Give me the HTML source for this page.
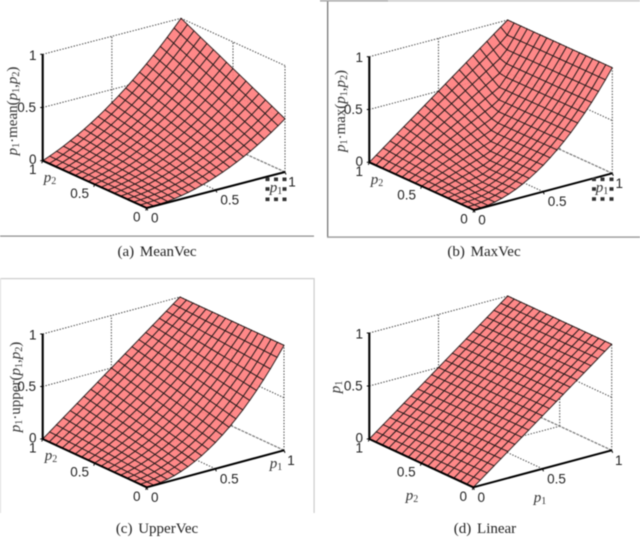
<!DOCTYPE html>
<html lang="en">
<head>
<meta charset="utf-8">
<title>Surface plots of p1 combination functions</title>
<style>
html,body{margin:0;padding:0;background:#fff;width:640px;height:537px;overflow:hidden}
svg{display:block;position:absolute;left:0;top:0}
#plots{filter:blur(0.5px)}
.cap{font-family:"Liberation Serif",serif;font-size:15px;fill:#222;text-anchor:middle;word-spacing:2px}
.ttl{font-family:"Liberation Serif",serif;font-size:15px;fill:#333;text-anchor:middle}
.ttl .i{font-style:italic}
.sub{font-size:10px}
</style>
</head>
<body>
<svg id="plots" width="640" height="537" viewBox="0 0 640 537" xmlns="http://www.w3.org/2000/svg">
  <g>
    <rect x="0" y="235.5" width="314" height="1.2" fill="#8a8a8a"/>
    <rect x="327" y="0" width="1.3" height="237" fill="#777"/>
    <rect x="327" y="236.4" width="313" height="1.4" fill="#999"/>
    <rect x="320" y="0" width="68" height="1.6" fill="#aaa"/>
    <rect x="388" y="0" width="252" height="1.6" fill="#ccc"/>
    <rect x="0" y="278" width="314" height="1.2" fill="#ccc"/>
    <rect x="313.5" y="278" width="1.2" height="235" fill="#ccc"/>
    <rect x="0" y="278" width="1" height="235" fill="#ddd"/>
  </g>
  <g id="surfaces"></g>

  <g fill="#333">
    <rect x="265.5" y="177.5" width="4" height="3.6"/><rect x="274" y="177.5" width="4" height="3.6"/><rect x="282.5" y="177.5" width="4" height="3.6"/>
    <rect x="265.5" y="187.2" width="4" height="3.6"/><rect x="282.5" y="187.2" width="4" height="3.6"/>
    <rect x="265.5" y="197.5" width="4" height="3.6"/><rect x="274" y="197.5" width="4" height="3.6"/><rect x="282.5" y="197.5" width="4" height="3.6"/>
  </g>
  <g fill="#333">
    <rect x="592" y="177.5" width="4" height="3.6"/><rect x="600.5" y="177.5" width="4" height="3.6"/><rect x="609.5" y="177.5" width="4" height="3.6"/>
    <rect x="592" y="187.2" width="4" height="3.6"/><rect x="609.5" y="187.2" width="4" height="3.6"/>
    <rect x="592" y="197.2" width="4" height="3.6"/><rect x="600.5" y="197.2" width="4" height="3.6"/><rect x="609.5" y="197.2" width="4" height="3.6"/>
  </g>

  <text class="ttl" transform="translate(17,111) rotate(-90)"><tspan class="i">p</tspan><tspan class="sub" dy="2">1</tspan><tspan dy="-2">·mean(</tspan><tspan class="i">p</tspan><tspan class="sub" dy="2">1</tspan><tspan dy="-2">,</tspan><tspan class="i">p</tspan><tspan class="sub" dy="2">2</tspan><tspan dy="-2">)</tspan></text>
  <text class="ttl" transform="translate(345,111) rotate(-90)"><tspan class="i">p</tspan><tspan class="sub" dy="2">1</tspan><tspan dy="-2">·max(</tspan><tspan class="i">p</tspan><tspan class="sub" dy="2">1</tspan><tspan dy="-2">,</tspan><tspan class="i">p</tspan><tspan class="sub" dy="2">2</tspan><tspan dy="-2">)</tspan></text>
  <text class="ttl" transform="translate(20,387) rotate(-90)"><tspan class="i">p</tspan><tspan class="sub" dy="2">1</tspan><tspan dy="-2">·upper(</tspan><tspan class="i">p</tspan><tspan class="sub" dy="2">1</tspan><tspan dy="-2">,</tspan><tspan class="i">p</tspan><tspan class="sub" dy="2">2</tspan><tspan dy="-2">)</tspan></text>
  <text class="ttl" transform="translate(340,387) rotate(-90)"><tspan class="i">p</tspan><tspan class="sub" dy="2">1</tspan></text>

  <text class="ttl" x="50" y="182"><tspan class="i">p</tspan><tspan class="sub" dy="2">2</tspan></text>
  <text class="ttl" x="276" y="192"><tspan class="i">p</tspan><tspan class="sub" dy="2">1</tspan></text>
  <text class="ttl" x="377" y="184"><tspan class="i">p</tspan><tspan class="sub" dy="2">2</tspan></text>
  <text class="ttl" x="602" y="192"><tspan class="i">p</tspan><tspan class="sub" dy="2">1</tspan></text>
  <text class="ttl" x="51" y="460"><tspan class="i">p</tspan><tspan class="sub" dy="2">2</tspan></text>
  <text class="ttl" x="276" y="468"><tspan class="i">p</tspan><tspan class="sub" dy="2">1</tspan></text>
  <text class="ttl" x="412" y="500"><tspan class="i">p</tspan><tspan class="sub" dy="2">2</tspan></text>
  <text class="ttl" x="540" y="502"><tspan class="i">p</tspan><tspan class="sub" dy="2">1</tspan></text>

  <text class="cap" x="157" y="256">(a) MeanVec</text>
  <text class="cap" x="484" y="256">(b) MaxVec</text>
  <text class="cap" x="157" y="533">(c) UpperVec</text>
  <text class="cap" x="485" y="533">(d) Linear</text>
</svg>
<script>
const p1Levels = [0,.05,.1,.15,.2,.25,.3,.35,.4,.45,.5,.55,.6,.65,.7,.75,.8,.85,.9,.95,1];
const p2Levels = [0,.0625,.125,.1875,.25,.3125,.375,.4375,.5,.5625,.625,.6875,.75,.8125,.875,.9375,1];
const tickValues = [0,.5,1];
const tickLabels = ["0","0.5","1"];

const zMean = [
[0,0,0,0,0,0,0,0,0,0,0,0,0,0,0,0,0],
[.001,.003,.004,.006,.007,.009,.011,.012,.014,.015,.017,.018,.020,.021,.023,.024,.026],
[.005,.008,.011,.014,.018,.021,.024,.027,.030,.033,.036,.039,.043,.046,.049,.052,.055],
[.011,.016,.021,.025,.030,.035,.039,.044,.049,.053,.058,.063,.068,.072,.077,.082,.086],
[.020,.026,.033,.039,.045,.051,.058,.064,.070,.076,.083,.089,.095,.101,.108,.114,.120],
[.031,.039,.047,.055,.063,.070,.078,.086,.094,.102,.109,.117,.125,.133,.141,.148,.156],
[.045,.054,.064,.073,.083,.092,.101,.111,.120,.129,.139,.148,.158,.167,.176,.186,.195],
[.061,.072,.083,.094,.105,.116,.127,.138,.149,.160,.171,.182,.193,.204,.214,.225,.236],
[.080,.093,.105,.118,.130,.143,.155,.168,.180,.193,.205,.218,.230,.243,.255,.268,.280],
[.101,.115,.129,.143,.158,.172,.186,.200,.214,.228,.242,.256,.270,.284,.298,.312,.326],
[.125,.141,.156,.172,.188,.203,.219,.234,.250,.266,.281,.297,.313,.328,.344,.359,.375],
[.151,.168,.186,.203,.220,.237,.254,.272,.289,.306,.323,.340,.358,.375,.392,.409,.426],
[.180,.199,.218,.236,.255,.274,.293,.311,.330,.349,.368,.386,.405,.424,.443,.461,.480],
[.211,.232,.252,.272,.293,.313,.333,.353,.374,.394,.414,.435,.455,.475,.496,.516,.536],
[.245,.267,.289,.311,.333,.354,.376,.398,.420,.442,.464,.486,.508,.529,.551,.573,.595],
[.281,.305,.328,.352,.375,.398,.422,.445,.469,.492,.516,.539,.563,.586,.609,.633,.656],
[.320,.345,.370,.395,.420,.445,.470,.495,.520,.545,.570,.595,.620,.645,.670,.695,.720],
[.361,.388,.414,.441,.468,.494,.521,.547,.574,.600,.627,.654,.680,.707,.733,.760,.786],
[.405,.433,.461,.489,.518,.546,.574,.602,.630,.658,.686,.714,.743,.771,.799,.827,.855],
[.451,.481,.511,.540,.570,.600,.629,.659,.689,.718,.748,.778,.808,.837,.867,.897,.926],
[.500,.531,.563,.594,.625,.656,.688,.719,.750,.781,.813,.844,.875,.906,.938,.969,1]
];

const zMax = [
[0,0,0,0,0,0,0,0,0,0,0,0,0,0,0,0,0],
[.003,.003,.006,.009,.013,.016,.019,.022,.025,.028,.031,.034,.038,.041,.044,.047,.050],
[.010,.010,.013,.019,.025,.031,.038,.044,.050,.056,.063,.069,.075,.081,.088,.094,.100],
[.023,.023,.023,.028,.038,.047,.056,.066,.075,.084,.094,.103,.113,.122,.131,.141,.150],
[.040,.040,.040,.040,.050,.063,.075,.088,.100,.113,.125,.138,.150,.163,.175,.188,.200],
[.063,.063,.063,.063,.063,.078,.094,.109,.125,.141,.156,.172,.188,.203,.219,.234,.250],
[.090,.090,.090,.090,.090,.094,.113,.131,.150,.169,.188,.206,.225,.244,.263,.281,.300],
[.123,.123,.123,.123,.123,.123,.131,.153,.175,.197,.219,.241,.263,.284,.306,.328,.350],
[.160,.160,.160,.160,.160,.160,.160,.175,.200,.225,.250,.275,.300,.325,.350,.375,.400],
[.203,.203,.203,.203,.203,.203,.203,.203,.225,.253,.281,.309,.338,.366,.394,.422,.450],
[.250,.250,.250,.250,.250,.250,.250,.250,.250,.281,.313,.344,.375,.406,.438,.469,.500],
[.303,.303,.303,.303,.303,.303,.303,.303,.303,.309,.344,.378,.413,.447,.481,.516,.550],
[.360,.360,.360,.360,.360,.360,.360,.360,.360,.360,.375,.413,.450,.488,.525,.563,.600],
[.423,.423,.423,.423,.423,.423,.423,.423,.423,.423,.423,.447,.488,.528,.569,.609,.650],
[.490,.490,.490,.490,.490,.490,.490,.490,.490,.490,.490,.490,.525,.569,.613,.656,.700],
[.563,.563,.563,.563,.563,.563,.563,.563,.563,.563,.563,.563,.563,.609,.656,.703,.750],
[.640,.640,.640,.640,.640,.640,.640,.640,.640,.640,.640,.640,.640,.650,.700,.750,.800],
[.723,.723,.723,.723,.723,.723,.723,.723,.723,.723,.723,.723,.723,.723,.744,.797,.850],
[.810,.810,.810,.810,.810,.810,.810,.810,.810,.810,.810,.810,.810,.810,.810,.844,.900],
[.903,.903,.903,.903,.903,.903,.903,.903,.903,.903,.903,.903,.903,.903,.903,.903,.950],
[1,1,1,1,1,1,1,1,1,1,1,1,1,1,1,1,1]
];

const zUpper = [
[0,0,0,0,0,0,0,0,0,0,0,0,0,0,0,0,0],
[.003,.005,.008,.011,.014,.017,.020,.023,.026,.029,.032,.035,.038,.041,.044,.047,.050],
[.010,.016,.021,.027,.033,.038,.044,.049,.055,.061,.066,.072,.078,.083,.089,.094,.100],
[.023,.030,.038,.046,.054,.062,.070,.078,.086,.094,.102,.110,.118,.126,.134,.142,.150],
[.040,.050,.060,.070,.080,.090,.100,.110,.120,.130,.140,.150,.160,.170,.180,.190,.200],
[.063,.074,.086,.098,.109,.121,.133,.145,.156,.168,.180,.191,.203,.215,.227,.238,.250],
[.090,.103,.116,.129,.143,.156,.169,.182,.195,.208,.221,.234,.248,.261,.274,.287,.300],
[.123,.137,.151,.165,.179,.194,.208,.222,.236,.250,.265,.279,.293,.307,.322,.336,.350],
[.160,.175,.190,.205,.220,.235,.250,.265,.280,.295,.310,.325,.340,.355,.370,.385,.400],
[.203,.218,.233,.249,.264,.280,.295,.311,.326,.342,.357,.373,.388,.404,.419,.435,.450],
[.250,.266,.281,.297,.313,.328,.344,.359,.375,.391,.406,.422,.438,.453,.469,.484,.500],
[.303,.318,.333,.349,.364,.380,.395,.411,.426,.442,.457,.473,.488,.504,.519,.535,.550],
[.360,.375,.390,.405,.420,.435,.450,.465,.480,.495,.510,.525,.540,.555,.570,.585,.600],
[.423,.437,.451,.465,.479,.494,.508,.522,.536,.550,.565,.579,.593,.607,.622,.636,.650],
[.490,.503,.516,.529,.543,.556,.569,.582,.595,.608,.621,.634,.648,.661,.674,.687,.700],
[.563,.574,.586,.598,.609,.621,.633,.645,.656,.668,.680,.691,.703,.715,.727,.738,.750],
[.640,.650,.660,.670,.680,.690,.700,.710,.720,.730,.740,.750,.760,.770,.780,.790,.800],
[.723,.730,.738,.746,.754,.762,.770,.778,.786,.794,.802,.810,.818,.826,.834,.842,.850],
[.810,.816,.821,.827,.833,.838,.844,.849,.855,.861,.866,.872,.878,.883,.889,.894,.900],
[.903,.905,.908,.911,.914,.917,.920,.923,.926,.929,.932,.935,.938,.941,.944,.947,.950],
[1,1,1,1,1,1,1,1,1,1,1,1,1,1,1,1,1]
];

const zLinearByP1 = [0,.05,.1,.15,.2,.25,.3,.35,.4,.45,.5,.55,.6,.65,.7,.75,.8,.85,.9,.95,1];

const zLinear = zLinearByP1.map(function (v) { return p2Levels.map(function () { return v; }); });

const SVGNS = 'http://www.w3.org/2000/svg';

function scaleFor(o, p1End, p2End, zTopY) {
  return function (p1, p2, z) {
    return [
      o[0] + (p1End[0] - o[0]) * p1 + (p2End[0] - o[0]) * p2,
      o[1] + (p1End[1] - o[1]) * p1 + (p2End[1] - o[1]) * p2 + (zTopY - p2End[1]) * z
    ];
  };
}

function addLine(parent, a, b, stroke, width, dash) {
  const el = document.createElementNS(SVGNS, 'line');
  el.setAttribute('x1', a[0].toFixed(2));
  el.setAttribute('y1', a[1].toFixed(2));
  el.setAttribute('x2', b[0].toFixed(2));
  el.setAttribute('y2', b[1].toFixed(2));
  el.setAttribute('stroke', stroke);
  el.setAttribute('stroke-width', width);
  if (dash) el.setAttribute('stroke-dasharray', dash);
  parent.appendChild(el);
  return el;
}

function addTick(parent, x, y, label) {
  const t = document.createElementNS(SVGNS, 'text');
  t.setAttribute('x', x.toFixed(1));
  t.setAttribute('y', y.toFixed(1));
  t.setAttribute('text-anchor', 'middle');
  t.setAttribute('dominant-baseline', 'central');
  t.setAttribute('font-family', '"Liberation Sans", sans-serif');
  t.setAttribute('font-size', '13.5');
  t.setAttribute('fill', '#222');
  t.textContent = label;
  parent.appendChild(t);
  return t;
}

function drawPanel(id, zMatrix, o, p1End, p2End, zTopY) {
  const P = scaleFor(o, p1End, p2End, zTopY);
  const root = document.getElementById('surfaces');
  const g = document.createElementNS(SVGNS, 'g');
  
  
  root.appendChild(g);

  const grid = document.createElementNS(SVGNS, 'g');
  
  
  g.appendChild(grid);
  const dot = '1.4 1.5';
  const dc = '#444';
  addLine(grid, P(0,1,1), P(1,1,1), dc, 1, dot);
  addLine(grid, P(1,1,1), P(1,0,1), dc, 1, dot);
  addLine(grid, P(0,1,.5), P(1,1,.5), dc, 1, dot);
  addLine(grid, P(1,1,.5), P(1,0,.5), dc, 1, dot);
  addLine(grid, P(.5,1,0), P(.5,1,1), dc, 1, dot);
  addLine(grid, P(1,.5,0), P(1,.5,1), dc, 1, dot);
  addLine(grid, P(1,0,0), P(1,0,1), dc, 1, dot);
  addLine(grid, P(1,1,0), P(1,1,1), dc, 1, dot);
  addLine(grid, P(.5,0,0), P(.5,1,0), dc, 1, dot);
  addLine(grid, P(0,.5,0), P(1,.5,0), dc, 1, dot);
  addLine(grid, P(0,1,0), P(1,1,0), dc, 1, dot);
  addLine(grid, P(1,0,0), P(1,1,0), '#777', 1.2, '3 1');

  const mesh = document.createElementNS(SVGNS, 'g');
  
  
  mesh.setAttribute('opacity', '0.93');
  g.appendChild(mesh);
  for (let i = p1Levels.length - 2; i >= 0; i--) {
    for (let j = p2Levels.length - 2; j >= 0; j--) {
      const a = P(p1Levels[i], p2Levels[j], zMatrix[i][j]);
      const b = P(p1Levels[i + 1], p2Levels[j], zMatrix[i + 1][j]);
      const c = P(p1Levels[i + 1], p2Levels[j + 1], zMatrix[i + 1][j + 1]);
      const d = P(p1Levels[i], p2Levels[j + 1], zMatrix[i][j + 1]);
      const q = document.createElementNS(SVGNS, 'polygon');
      
      
      q.setAttribute('points', [a, b, c, d].map(function (pt) { return pt[0].toFixed(2) + ',' + pt[1].toFixed(2); }).join(' '));
      q.setAttribute('fill', '#ff7f7f');
      q.setAttribute('stroke', '#1c0c0c');
      q.setAttribute('stroke-width', '0.95');
      mesh.appendChild(q);
    }
  }

  const axes = document.createElementNS(SVGNS, 'g');
  
  
  g.appendChild(axes);
  addLine(axes, P(0,0,0), P(1,0,0), '#000', 2);
  addLine(axes, P(0,0,0), P(0,1,0), '#000', 2);
  addLine(axes, P(0,1,0), P(0,1,1), '#000', 2.1);

  const p1Off = [[8,10],[14,10],[7,10]];
  const p2Off = [[-10,9],[-15,9],[-10,9]];
  const zOff = [[-10,-1],[-16,0],[-10,1]];
  tickValues.forEach(function (v, k) {
    const a = P(v, 0, 0);
    addLine(axes, a, [a[0] + 1, a[1] + 2.5], '#000', 1);
    const t1 = addTick(axes, a[0] + p1Off[k][0], a[1] + p1Off[k][1], tickLabels[k]);
    
    

    const b = P(0, v, 0);
    addLine(axes, b, [b[0] - 1, b[1] + 2.5], '#000', 1);
    const t2 = addTick(axes, b[0] + p2Off[k][0], b[1] + p2Off[k][1], tickLabels[k]);
    
    

    const c = P(0, 1, v);
    addLine(axes, c, [c[0] - 2.5, c[1]], '#000', 1);
    const t3 = addTick(axes, c[0] + zOff[k][0], c[1] + zOff[k][1], tickLabels[k]);
    
    
  });
}

drawPanel('a', zMean,   [146.7,208],   [285,172],     [42.7,160.7],  54.3);
drawPanel('b', zMax,    [474,210],     [612.3,173.3], [369.3,162.3], 56.7);
drawPanel('c', zUpper,  [146.7,487.3], [284,450.3],   [42.7,439],    334);
drawPanel('d', zLinear, [473.3,487.3], [611.7,450.3], [369.3,439],   333);
</script>
</body>
</html>
